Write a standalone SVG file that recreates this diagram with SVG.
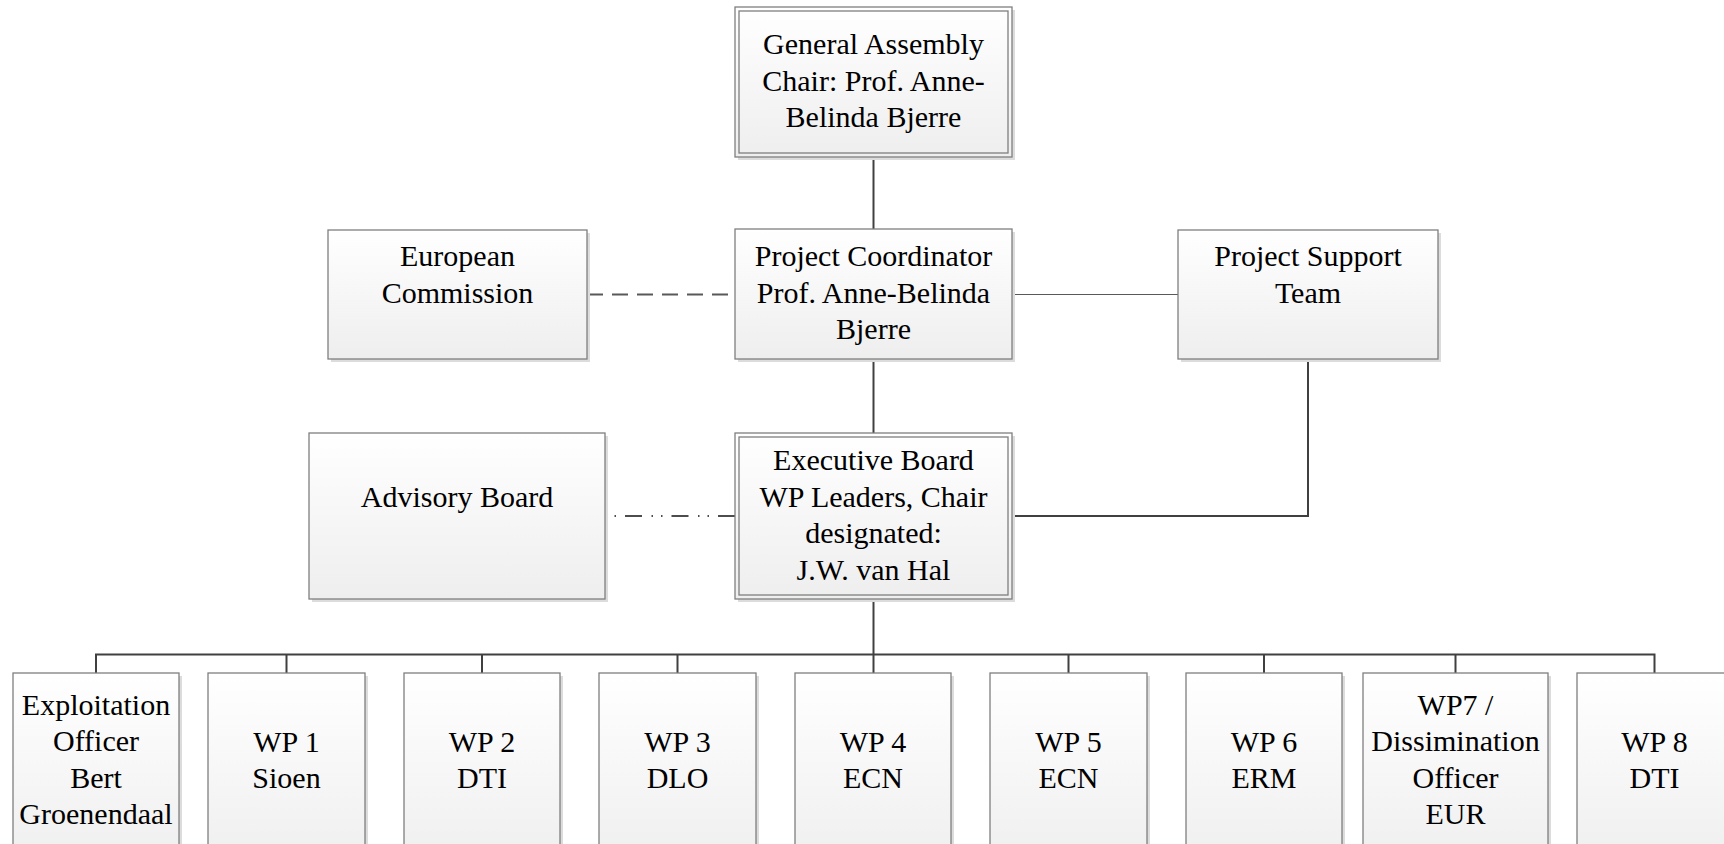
<svg xmlns="http://www.w3.org/2000/svg" width="1724" height="844" viewBox="0 0 1724 844">
<defs>
<linearGradient id="g" x1="0" y1="0" x2="0" y2="1">
<stop offset="0" stop-color="#ffffff"/>
<stop offset="1" stop-color="#eeeeee"/>
</linearGradient>
<style>
.sh{fill:#dcdcdc}
.bx{fill:url(#g);stroke:#7f7f7f;stroke-width:1.3}
.in{fill:none;stroke:#7f7f7f;stroke-width:1.3}
text{font-family:"Liberation Serif","Times New Roman",serif;font-size:30px;fill:#000;text-anchor:middle}
.c{fill:none;stroke:#404040;stroke-width:2}
.thin{fill:none;stroke:#595959;stroke-width:1.2}
.dash{fill:none;stroke:#595959;stroke-width:2;stroke-dasharray:16 9}
.dd{fill:none;stroke:#4d4d4d;stroke-width:2;stroke-dasharray:17 9 1.5 8 1.5 9.5}
</style>
</defs>
<rect width="1724" height="844" fill="#ffffff"/>
<g id="connectors">
<path class="c" d="M873.5 157V229"/>
<path class="c" d="M873.5 359V433"/>
<path class="dash" d="M587 294.5H735"/>
<path class="thin" d="M1012 294.5H1178"/>
<path class="dd" d="M735 516H607"/>
<path class="c" d="M1012 516H1308V359"/>
<path class="c" d="M873.5 599V673"/>
<path class="c" d="M96 673V654.5H1654.5V673"/>
<path class="c" d="M286.5 654.5V673M482 654.5V673M677.5 654.5V673M1068.5 654.5V673M1264 654.5V673M1455.5 654.5V673"/>
</g>
<g id="general-assembly">
<rect class="sh" x="738" y="10" width="277" height="150"/>
<rect class="bx" x="735" y="7" width="277" height="150"/>
<rect class="in" x="739" y="11" width="269" height="142"/>
<text x="873.5" y="54">General Assembly</text>
<text x="873.5" y="90.5">Chair: Prof. Anne-</text>
<text x="873.5" y="127">Belinda Bjerre</text>
</g>
<g id="european-commission">
<rect class="sh" x="331" y="233" width="259" height="129"/>
<rect class="bx" x="328" y="230" width="259" height="129"/>
<text x="457.5" y="266">European</text>
<text x="457.5" y="302.5">Commission</text>
</g>
<g id="project-coordinator">
<rect class="sh" x="738" y="232" width="277" height="130"/>
<rect class="bx" x="735" y="229" width="277" height="130"/>
<text x="873.5" y="266">Project Coordinator</text>
<text x="873.5" y="302.5">Prof. Anne-Belinda</text>
<text x="873.5" y="339">Bjerre</text>
</g>
<g id="project-support-team">
<rect class="sh" x="1181" y="233" width="260" height="129"/>
<rect class="bx" x="1178" y="230" width="260" height="129"/>
<text x="1308" y="266">Project Support</text>
<text x="1308" y="302.5">Team</text>
</g>
<g id="advisory-board">
<rect class="sh" x="312" y="436" width="296" height="166"/>
<rect class="bx" x="309" y="433" width="296" height="166"/>
<text x="457" y="507">Advisory Board</text>
</g>
<g id="executive-board">
<rect class="sh" x="738" y="436" width="277" height="166"/>
<rect class="bx" x="735" y="433" width="277" height="166"/>
<rect class="in" x="739" y="437" width="269" height="158"/>
<text x="873.5" y="470">Executive Board</text>
<text x="873.5" y="506.5">WP Leaders, Chair</text>
<text x="873.5" y="543">designated:</text>
<text x="873.5" y="579.5">J.W. van Hal</text>
</g>
<g id="exploitation-officer">
<rect class="sh" x="16" y="676" width="166" height="200"/>
<rect class="bx" x="13" y="673" width="166" height="200"/>
<text x="96" y="714.5">Exploitation</text>
<text x="96" y="751">Officer</text>
<text x="96" y="787.5">Bert</text>
<text x="96" y="824">Groenendaal</text>
</g>
<g id="wp1">
<rect class="sh" x="211" y="676" width="157" height="200"/>
<rect class="bx" x="208" y="673" width="157" height="200"/>
<text x="286.5" y="751.5">WP 1</text>
<text x="286.5" y="788">Sioen</text>
</g>
<g id="wp2">
<rect class="sh" x="407" y="676" width="156" height="200"/>
<rect class="bx" x="404" y="673" width="156" height="200"/>
<text x="482" y="751.5">WP 2</text>
<text x="482" y="788">DTI</text>
</g>
<g id="wp3">
<rect class="sh" x="602" y="676" width="157" height="200"/>
<rect class="bx" x="599" y="673" width="157" height="200"/>
<text x="677.5" y="751.5">WP 3</text>
<text x="677.5" y="788">DLO</text>
</g>
<g id="wp4">
<rect class="sh" x="798" y="676" width="156" height="200"/>
<rect class="bx" x="795" y="673" width="156" height="200"/>
<text x="873" y="751.5">WP 4</text>
<text x="873" y="788">ECN</text>
</g>
<g id="wp5">
<rect class="sh" x="993" y="676" width="157" height="200"/>
<rect class="bx" x="990" y="673" width="157" height="200"/>
<text x="1068.5" y="751.5">WP 5</text>
<text x="1068.5" y="788">ECN</text>
</g>
<g id="wp6">
<rect class="sh" x="1189" y="676" width="156" height="200"/>
<rect class="bx" x="1186" y="673" width="156" height="200"/>
<text x="1264" y="751.5">WP 6</text>
<text x="1264" y="788">ERM</text>
</g>
<g id="wp7">
<rect class="sh" x="1366" y="676" width="185" height="200"/>
<rect class="bx" x="1363" y="673" width="185" height="200"/>
<text x="1455.5" y="714.5">WP7 /</text>
<text x="1455.5" y="751">Dissimination</text>
<text x="1455.5" y="787.5">Officer</text>
<text x="1455.5" y="824">EUR</text>
</g>
<g id="wp8">
<rect class="sh" x="1580" y="676" width="155" height="200"/>
<rect class="bx" x="1577" y="673" width="155" height="200"/>
<text x="1654.5" y="751.5">WP 8</text>
<text x="1654.5" y="788">DTI</text>
</g>
</svg>
